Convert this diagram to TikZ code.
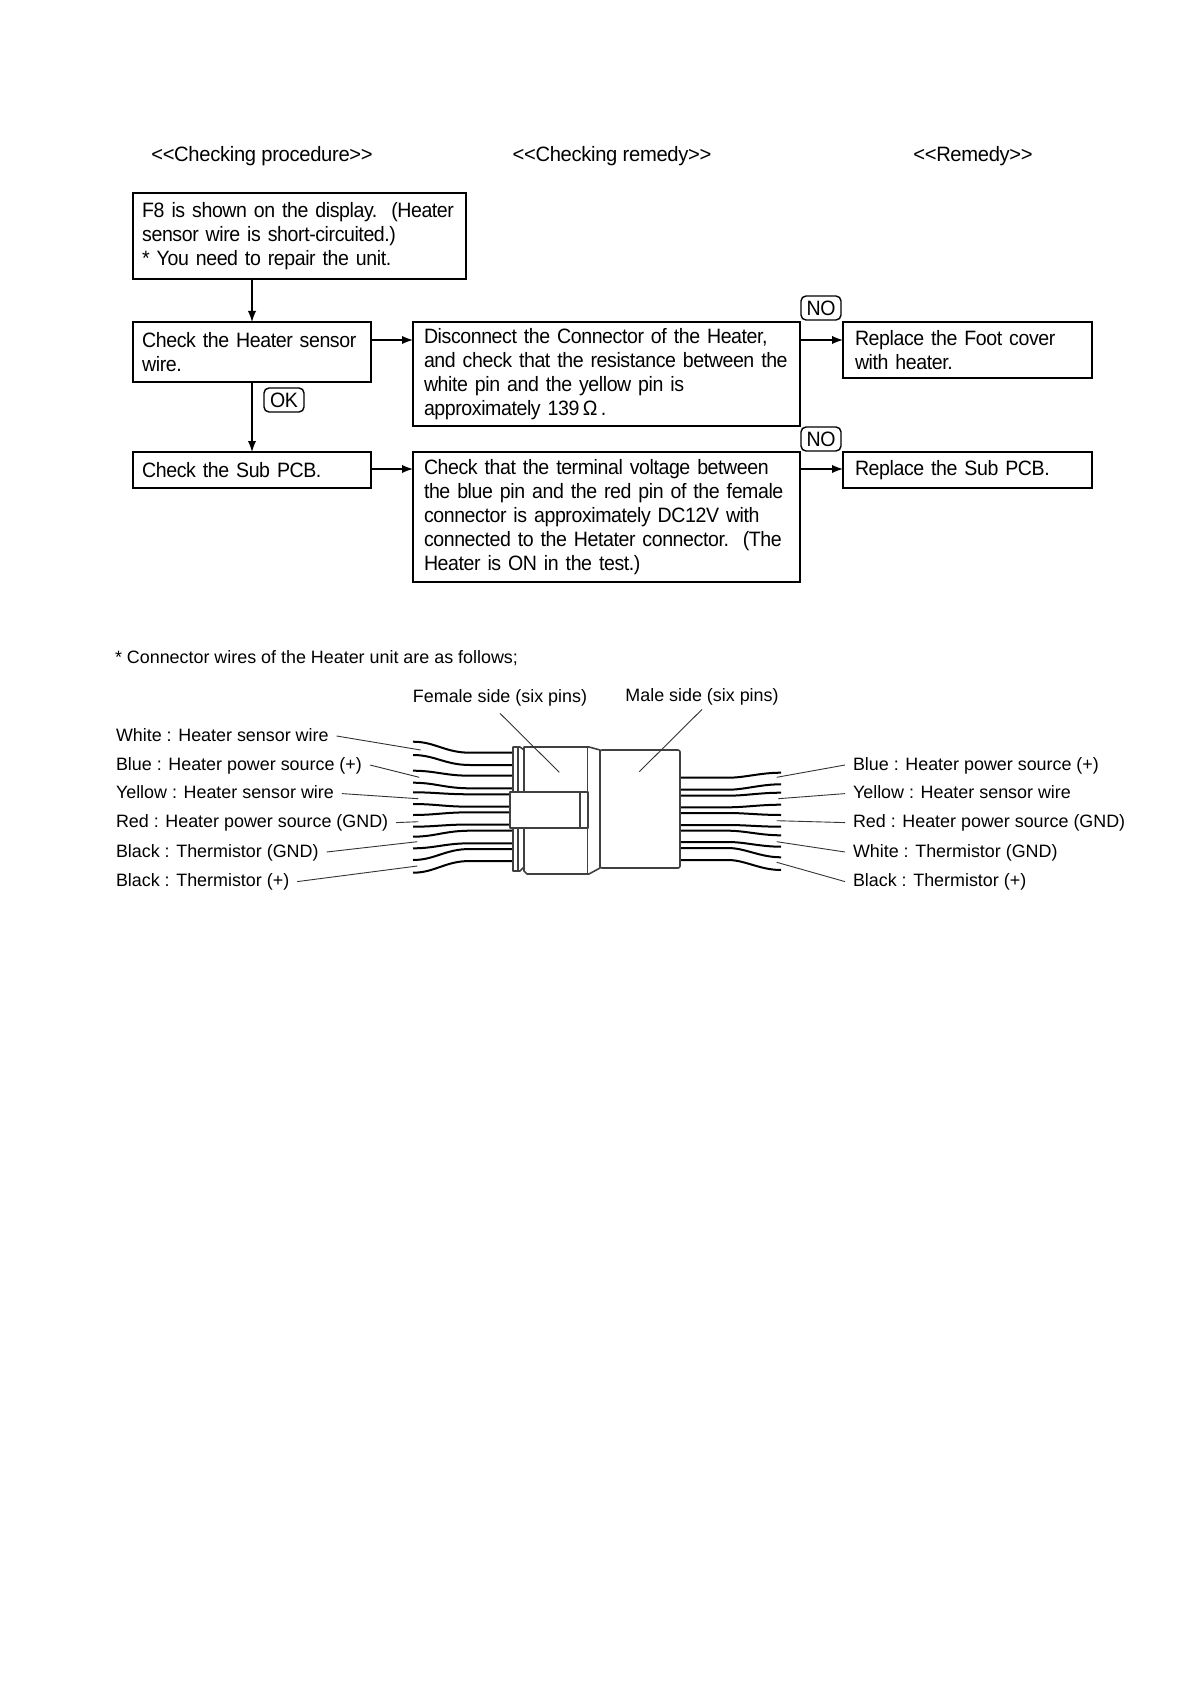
\documentclass[tikz,border=0pt]{standalone}
\usepackage{fontspec}
\setmainfont{Liberation Sans}
\newfontfamily\flowfont[FakeStretch=0.94,LetterSpace=-2]{Liberation Sans}
\newfontfamily\headfont[FakeStretch=0.97,LetterSpace=-1.5]{Liberation Sans}
\usetikzlibrary{positioning}
\tikzset{
	stepbox/.style={draw,line width=0.9pt,outer sep=0pt,anchor=north west,align=left,inner ysep=0pt,inner xsep=4.6pt,font=\flowfont\fontsize{10.4}{12}\selectfont},
	tagbox/.style={draw,line width=0.7pt,rounded corners=2.5pt,inner sep=0pt,minimum width=20pt,minimum height=12pt,font=\flowfont\fontsize{10.4}{12}\selectfont},
	headtext/.style={inner sep=0pt,font=\headfont\fontsize{10.4}{12}\selectfont},
	flowarrow/.style={line width=0.9pt,-latex},
	wiretext/.style={inner sep=0pt,outer xsep=4pt,anchor=west,text height=7pt,text depth=2pt,font=\fontsize{8.95}{11}\selectfont},
	leaderline/.style={line width=0.45pt,black!80},
	wireline/.style={line width=1pt},
	bodyline/.style={line width=0.8pt,black!75,line join=round}
}
\begin{document}
\begin{tikzpicture}[x=0.5pt,y=-0.5pt]
	\useasboundingbox (0,0) rectangle (1190,1684);
	% Column heads
	\node[headtext] (headProcedure) at (262,156) {<{}<Checking procedure>{}>};
	\node[headtext] (headCheck) at (612,156) {<{}<Checking remedy>{}>};
	\node[headtext] (headRemedy) at (973,156) {<{}<Remedy>{}>};
	% Left column
	\node[stepbox,text width=157.3pt,minimum height=43pt] (boxFault) at (133,193) {\mbox{F8 is shown on the display.\ \ (Heater}\\sensor wire is short-circuited.)\\{}* You need to repair the unit.};
	\node[stepbox,text width=109.8pt,minimum height=30pt] (boxSensor) at (133,322) {\mbox{Check the Heater sensor}\\wire.};
	\node[stepbox,text width=109.8pt,minimum height=18pt] (boxSub) at (133,452) {Check the Sub PCB.};
	% Middle column
	\node[stepbox,text width=182.5pt,inner xsep=5.5pt,minimum height=52pt] (boxDisconnect) at (413,322) {\mbox{Disconnect the Connector of the Heater,}\\\mbox{and check that the resistance between the}\\white pin and the yellow pin is\\approximately 139\,Ω\,.};
	\node[stepbox,text width=182.5pt,inner xsep=5.5pt,minimum height=65pt] (boxVoltage) at (413,452) {\mbox{Check that the terminal voltage between}\\\mbox{the blue pin and the red pin of the female}\\\mbox{connector is approximately DC12V with}\\\mbox{connected to the Hetater connector.\ \ (The}\\Heater is ON in the test.)};
	% Right column
	\node[stepbox,text width=112.5pt,inner xsep=6pt,minimum height=28pt] (boxFoot) at (843,322) {Replace the Foot cover\\with heater.};
	\node[stepbox,text width=112.5pt,inner xsep=6pt,minimum height=18pt] (boxPcb) at (843,452) {Replace the Sub PCB.};
	% Tags
	\node[tagbox] (tagOk) at (284,400) {OK};
	\node[tagbox] (tagNoUp) at (821,308) {NO};
	\node[tagbox] (tagNoLow) at (821,439) {NO};
	% Arrows
	\draw[flowarrow] (boxSensor.north |- boxFault.south) -- (boxSensor.north);
	\draw[flowarrow] (boxSensor) -- (boxSub);
	\draw[flowarrow] ([yshift=-9pt]boxSensor.north east) -- ([yshift=-9pt]boxDisconnect.north west);
	\draw[flowarrow] ([yshift=-8.5pt]boxSub.north east) -- ([yshift=-8.5pt]boxVoltage.north west);
	\draw[flowarrow] ([yshift=-9pt]boxDisconnect.north east) -- ([yshift=-9pt]boxFoot.north west);
	\draw[flowarrow] ([yshift=-8.5pt]boxVoltage.north east) -- ([yshift=-8.5pt]boxPcb.north west);
	% Connector heading and side labels
	\node[wiretext,outer xsep=0pt] (noteWires) at (115,658) {* Connector wires of the Heater unit are as follows;};
	\node[wiretext,outer xsep=0pt,anchor=center] (labelFemale) at (500,697) {Female side (six pins)};
	\node[wiretext,outer xsep=0pt,anchor=center] (labelMale) at (702,696) {Male side (six pins)};
	% Left wires
	\foreach \xs/\ys/\ye in {513/752.7/741.7,513/765/755,513/775.7/770.7,513/788.3/782.7,510/794.3/792.3,510/806.7/804,510/812.3/815,510/824.5/826.7,513/830.7/836.7,513/843.3/848.3,513/849/860,513/861/872.7}
		\draw[wireline] (\xs,\ys) -- (470,\ys) .. controls (445,\ys) and (435,\ye) .. (413,\ye);
	% Right wires
	\foreach \ys/\ye in {777.7/772.7,789.7/784.3,795.7/792.7,807.3/804.7,813/815,825/826.7,830.7/835.3,842/846.7,848/857.3,860/870}
		\draw[wireline] (680,\ys) -- (728,\ys) .. controls (745,\ys) and (760,\ye) .. (781,\ye);
	% Connector body
	\draw[bodyline,fill=white] (513,747) -- (520,747) -- (524,750) -- (524,747) -- (589,747) -- (600,750) -- (600,868) -- (589,874) -- (527,874) -- (524,871) -- (524,867) -- (520,871) -- (513,871) -- cycle;
	\draw[bodyline] (518,747) -- (518,871);
	\draw[bodyline] (524,750) -- (524,867);
	\draw[bodyline] (587.5,747) -- (587.5,874);
	\draw[bodyline,fill=white,rounded corners=1pt] (600,750) -- (680,750) -- (680,868) -- (600,868) -- cycle;
	\draw[bodyline,fill=white] (510,791.7) rectangle (587.7,828);
	\draw[bodyline] (580,791.7) -- (580,828);
	% Side leaders
	\draw[leaderline] (labelFemale.south) ++ (0,7) coordinate (femaleStart) -- (559.3,772.3) coordinate (femaleEnd);
	\draw[leaderline] (labelMale.south) ++ (0,4) coordinate (maleStart) -- (639.3,771.7) coordinate (maleEnd);
	% Left labels
	\foreach \name/\txt/\ypos/\xend/\yend in {
		White/{White : Heater sensor wire}/736/420.7/750,
		Blue/{Blue : Heater power source (+)}/765/419.3/777.3,
		Yellow/{Yellow : Heater sensor wire}/793.6/418.3/798.7,
		Red/{Red : Heater power source (GND)}/822.6/418.3/821.7,
		BlackGnd/{Black : Thermistor (GND)}/852/417.3/841.7,
		BlackPlus/{Black : Thermistor (+)}/881.6/417.3/866}
	{
		\node[wiretext] (left\name) at (108,\ypos) {\txt};
		\coordinate (leftEnd\name) at (\xend,\yend);
		\draw[leaderline] (left\name.east) -- (leftEnd\name);
	}
	% Right labels
	\foreach \name/\txt/\ypos/\xend/\yend in {
		Blue/{Blue : Heater power source (+)}/765/776.7/777.3,
		Yellow/{Yellow : Heater sensor wire}/793.6/778.3/798.7,
		Red/{Red : Heater power source (GND)}/822.6/776.7/820.7,
		White/{White : Thermistor (GND)}/852/776.7/841.7,
		Black/{Black : Thermistor (+)}/881.6/776.7/862.3}
	{
		\node[wiretext,anchor=west] (right\name) at (845,\ypos) {\txt};
		\coordinate (rightEnd\name) at (\xend,\yend);
		\draw[leaderline] (right\name.west) -- (rightEnd\name);
	}
\end{tikzpicture}
\end{document}
